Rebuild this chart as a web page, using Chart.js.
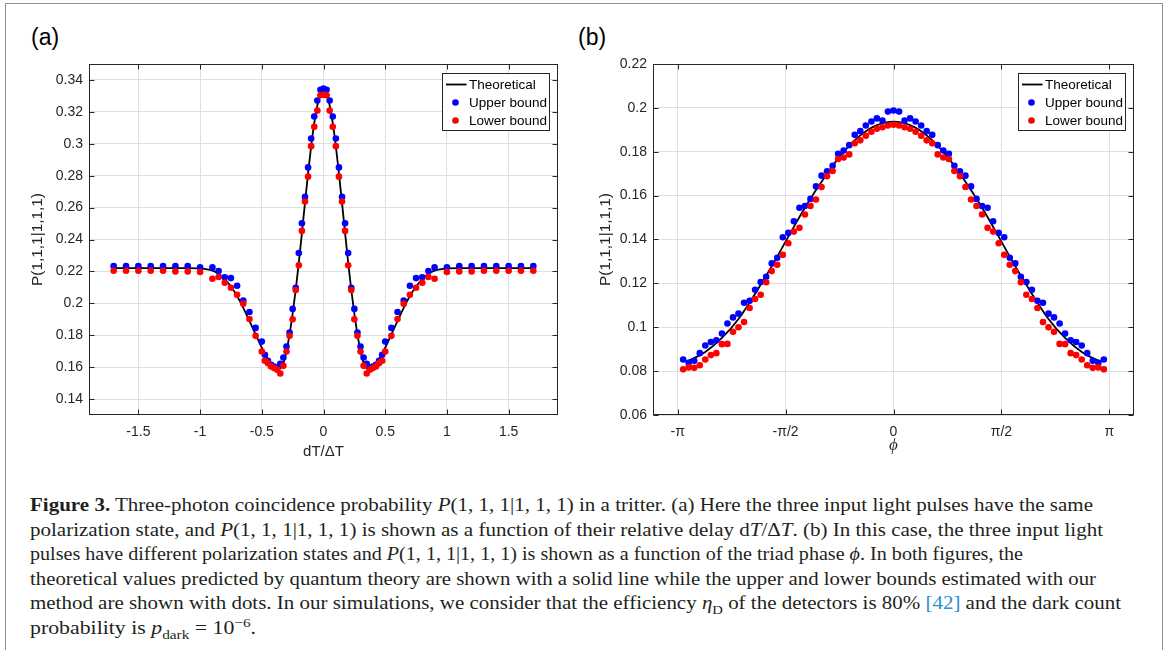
<!DOCTYPE html>
<html><head><meta charset="utf-8">
<script src="https://cdn.jsdelivr.net/npm/chart.js@4.4.1/dist/chart.umd.min.js"></script>
<style>
html,body{margin:0;padding:0;background:#fff;width:1168px;height:650px;overflow:hidden;position:relative;}
#frame{position:absolute;left:5px;top:3px;width:1158px;height:700px;border:1px solid #8f8f8f;box-sizing:border-box;}
canvas{position:absolute;top:0;}
.plab{position:absolute;font-family:"Liberation Sans",Arial,sans-serif;font-size:23px;color:#000;line-height:1;}
.cap{position:absolute;left:30px;white-space:nowrap;font-family:"Liberation Serif","Times New Roman",serif;font-size:18.5px;line-height:24px;color:#231f20;transform-origin:0 50%;}
.cap i{font-style:italic;}
.cap b{font-weight:bold;}
.cap sub,.cap sup{font-size:70%;line-height:0;}
.ref{color:#2b8fd0;}
</style></head><body>
<div id="frame"></div>
<div class="plab" style="left:31px;top:26px">(a)</div>
<div class="plab" style="left:578px;top:26px">(b)</div>
<canvas id="ca" width="580" height="470" style="left:0"></canvas>
<canvas id="cb" width="588" height="470" style="left:580px"></canvas>
<div class="cap" data-w="1063" style="top:493px"><b>Figure 3.</b> Three-photon coincidence probability <i>P</i>(1, 1, 1|1, 1, 1) in a tritter. (a) Here the three input light pulses have the same</div>
<div class="cap" data-w="1073" style="top:517.5px">polarization state, and <i>P</i>(1, 1, 1|1, 1, 1) is shown as a function of their relative delay d<i>T</i>/Δ<i>T</i>. (b) In this case, the three input light</div>
<div class="cap" data-w="993" style="top:542px">pulses have different polarization states and <i>P</i>(1, 1, 1|1, 1, 1) is shown as a function of the triad phase <i>ϕ</i>. In both figures, the</div>
<div class="cap" data-w="1066" style="top:566.5px">theoretical values predicted by quantum theory are shown with a solid line while the upper and lower bounds estimated with our</div>
<div class="cap" data-w="1091" style="top:591px">method are shown with dots. In our simulations, we consider that the efficiency <i>η</i><sub>D</sub> of the detectors is 80% <span class="ref">[42]</span> and the dark count</div>
<div class="cap" data-w="226" style="top:615.5px">probability is <i>p</i><sub>dark</sub> = 10<sup>−6</sup>.</div>
<script>
// ---------- Panel (a) data ----------
const delayA = [-1.7,-1.6,-1.5,-1.4,-1.3,-1.2,-1.1,-1.0,-0.9,-0.85,-0.8,-0.75,-0.7,-0.65,-0.6,-0.55,-0.5,
  -0.475,-0.45,-0.425,-0.4,-0.375,-0.35,-0.325,-0.3,-0.275,-0.25,-0.225,-0.2,-0.175,-0.15,-0.125,-0.1,-0.075,-0.05,-0.025,
  0,
  0.025,0.05,0.075,0.1,0.125,0.15,0.175,0.2,0.225,0.25,0.275,0.3,0.325,0.35,0.375,0.4,0.425,0.45,0.475,
  0.5,0.55,0.6,0.65,0.7,0.75,0.8,0.85,0.9,1.0,1.1,1.2,1.3,1.4,1.5,1.6,1.7];
const upperA = [0.2233,0.2233,0.2233,0.2233,0.2233,0.2233,0.2233,0.2226,0.2225,0.2202,0.2163,0.2158,0.2110,0.2017,0.1946,0.1846,0.1760,
  0.1677,0.1640,0.1615,0.1604,0.1598,0.1621,0.1660,0.1729,0.1817,0.1965,0.2098,0.2315,0.2502,0.2667,0.2852,0.3033,0.3171,0.3271,0.3338,
  0.3346,
  0.3338,0.3271,0.3171,0.3033,0.2852,0.2667,0.2502,0.2315,0.2098,0.1965,0.1817,0.1729,0.1660,0.1621,0.1598,0.1604,0.1615,0.1640,0.1677,
  0.1760,0.1846,0.1946,0.2017,0.2110,0.2158,0.2163,0.2202,0.2225,0.2226,0.2233,0.2233,0.2233,0.2233,0.2233,0.2233,0.2233];
const lowerA = [0.2204,0.2204,0.2204,0.2204,0.2204,0.2200,0.2200,0.2196,0.2154,0.2165,0.2129,0.2098,0.2054,0.1998,0.1902,0.1796,0.1698,
  0.1640,0.1625,0.1604,0.1594,0.1583,0.1560,0.1608,0.1698,0.1796,0.1900,0.2083,0.2238,0.2454,0.2638,0.2794,0.2985,0.3106,0.3208,0.3304,
  0.3308,
  0.3304,0.3208,0.3106,0.2985,0.2794,0.2638,0.2454,0.2238,0.2083,0.1900,0.1796,0.1698,0.1608,0.1560,0.1583,0.1594,0.1604,0.1625,0.1640,
  0.1698,0.1796,0.1902,0.1998,0.2054,0.2098,0.2129,0.2165,0.2154,0.2196,0.2200,0.2200,0.2204,0.2204,0.2204,0.2204,0.2204];
const theoryA = [0.2220,0.2220,0.2220,0.2220,0.2220,0.2220,0.2220,0.2218,0.2205,0.2185,0.2152,0.2105,0.2045,0.1972,0.1890,0.1805,0.1722,
  0.1684,0.1650,0.1622,0.1600,0.1588,0.1592,0.1625,0.1700,0.1805,0.1935,0.2085,0.2255,0.2440,0.2630,0.2815,0.2985,0.3130,0.3240,0.3310,
  0.3330,
  0.3310,0.3240,0.3130,0.2985,0.2815,0.2630,0.2440,0.2255,0.2085,0.1935,0.1805,0.1700,0.1625,0.1592,0.1588,0.1600,0.1622,0.1650,0.1684,
  0.1722,0.1805,0.1890,0.1972,0.2045,0.2105,0.2152,0.2185,0.2205,0.2218,0.2220,0.2220,0.2220,0.2220,0.2220,0.2220,0.2220];
const xTicksA = [-1.5,-1,-0.5,0,0.5,1,1.5];
const xLabelsA = ['-1.5','-1','-0.5','0','0.5','1','1.5'];
const yTicksA = [0.14,0.16,0.18,0.2,0.22,0.24,0.26,0.28,0.3,0.32,0.34];
const yLabelsA = ['0.14','0.16','0.18','0.2','0.22','0.24','0.26','0.28','0.3','0.32','0.34'];

// ---------- Panel (b) data ----------
const phaseB = [-3.061,-2.981,-2.900,-2.819,-2.739,-2.658,-2.578,-2.497,-2.417,-2.336,-2.256,-2.175,-2.094,-2.014,-1.933,-1.853,-1.772,-1.692,-1.611,
  -1.531,-1.450,-1.369,-1.289,-1.208,-1.128,-1.047,-0.967,-0.886,-0.806,-0.725,-0.644,-0.564,-0.483,-0.403,-0.322,-0.242,-0.161,-0.081,
  0,
  0.081,0.161,0.242,0.322,0.403,0.483,0.564,0.644,0.725,0.806,0.886,0.967,1.047,1.128,1.208,1.289,1.369,1.450,1.531,
  1.611,1.692,1.772,1.853,1.933,2.014,2.094,2.175,2.256,2.336,2.417,2.497,2.578,2.658,2.739,2.819,2.900,2.981,3.061];
const upperB = [0.0853,0.0838,0.0847,0.0882,0.0917,0.0933,0.0941,0.0971,0.1017,0.1045,0.1062,0.1112,0.1121,0.1171,0.1206,0.1230,0.1291,0.1317,0.1410,
  0.1430,0.1483,0.1545,0.1553,0.1585,0.1642,0.1691,0.1711,0.1736,0.1791,0.1806,0.1830,0.1877,0.1894,0.1920,0.1938,0.1952,0.1942,0.1983,
  0.1988,
  0.1983,0.1942,0.1952,0.1938,0.1920,0.1894,0.1877,0.1830,0.1806,0.1791,0.1736,0.1711,0.1691,0.1642,0.1585,0.1553,0.1545,0.1483,0.1430,
  0.1410,0.1317,0.1291,0.1230,0.1206,0.1171,0.1121,0.1112,0.1062,0.1045,0.1017,0.0971,0.0941,0.0933,0.0917,0.0882,0.0847,0.0838,0.0853];
const lowerB = [0.0808,0.0817,0.0815,0.0827,0.0853,0.0873,0.0882,0.0923,0.0924,0.0979,0.1000,0.1024,0.1088,0.1129,0.1148,0.1205,0.1256,0.1285,0.1330,
  0.1383,0.1436,0.1453,0.1514,0.1553,0.1582,0.1639,0.1688,0.1712,0.1767,0.1774,0.1788,0.1839,0.1852,0.1873,0.1891,0.1905,0.1912,0.1920,
  0.1923,
  0.1920,0.1912,0.1905,0.1891,0.1873,0.1852,0.1839,0.1788,0.1774,0.1767,0.1712,0.1688,0.1639,0.1582,0.1553,0.1514,0.1453,0.1436,0.1383,
  0.1330,0.1285,0.1256,0.1205,0.1148,0.1129,0.1088,0.1024,0.1000,0.0979,0.0924,0.0923,0.0882,0.0873,0.0853,0.0827,0.0815,0.0817,0.0808];
const phaseTheoryB = [-3.0,-2.75,-2.5,-2.25,-2.0,-1.75,-1.5,-1.25,-1.0,-0.75,-0.5,-0.25,0,0.25,0.5,0.75,1.0,1.25,1.5,1.75,2.0,2.25,2.5,2.75,3.0];
const theoryB = [0.0845,0.0885,0.0950,0.1040,0.1160,0.1290,0.1430,0.1565,0.1685,0.1790,0.1870,0.1920,0.1937,0.1920,0.1870,0.1790,0.1685,0.1565,0.1430,0.1290,0.1160,0.1040,0.0950,0.0885,0.0845];
const xTicksB = [-Math.PI,-Math.PI/2,0,Math.PI/2,Math.PI];
const xLabelsB = ['-π','-π/2','0','π/2','π'];
const yTicksB = [0.06,0.08,0.1,0.12,0.14,0.16,0.18,0.2,0.22];
const yLabelsB = ['0.06','0.08','0.1','0.12','0.14','0.16','0.18','0.2','0.22'];

const seriesNames = ['Theoretical','Upper bound','Lower bound'];
const yTitle = 'P(1,1,1|1,1,1)';

const AXC = '#262626', GRID = '#dfdfdf';
const SANS = '"Liberation Sans", Arial, sans-serif';

const boxPlugin = {
  id: 'boxPlugin',
  afterDraw(chart) {
    const {ctx, chartArea: a, scales: {x, y}} = chart;
    ctx.save();
    ctx.strokeStyle = AXC; ctx.lineWidth = 1;
    const L = Math.round(a.left) + 0.5, T = Math.round(a.top) + 0.5, R = Math.round(a.right) - 0.5, B = Math.round(a.bottom) - 0.5;
    ctx.strokeRect(L, T, R - L, B - T);
    const tl = 5;
    ctx.beginPath();
    x.ticks.forEach(t => { const p = Math.round(x.getPixelForValue(t.value)) + 0.5;
      ctx.moveTo(p, B); ctx.lineTo(p, B - tl); ctx.moveTo(p, T); ctx.lineTo(p, T + tl); });
    y.ticks.forEach(t => { const p = Math.round(y.getPixelForValue(t.value)) + 0.5;
      ctx.moveTo(L, p); ctx.lineTo(L + tl, p); ctx.moveTo(R, p); ctx.lineTo(R - tl, p); });
    ctx.stroke();
    // legend box
    const w = 107, h = 57;
    const lx = Math.round(a.right - 9 - w) + 0.5, ly = Math.round(a.top + 9) + 0.5;
    ctx.fillStyle = '#fff';
    ctx.fillRect(lx, ly, w, h);
    ctx.strokeRect(lx, ly, w, h);
    ctx.font = '13.5px ' + SANS;
    ctx.textBaseline = 'middle';
    ctx.fillStyle = '#000';
    const ds = chart.data.datasets;
    const rows = [ly + 11, ly + 29, ly + 47];
    ds.forEach((d, i) => {
      const ry = rows[i];
      if (i === 0) {
        ctx.strokeStyle = d.borderColor; ctx.lineWidth = 1.8;
        ctx.beginPath(); ctx.moveTo(lx + 3.5, ry); ctx.lineTo(lx + 24, ry); ctx.stroke();
      } else {
        ctx.fillStyle = d.backgroundColor;
        ctx.beginPath(); ctx.arc(lx + 13, ry, 3.3, 0, Math.PI * 2); ctx.fill();
      }
      ctx.fillStyle = '#000';
      ctx.fillText(d.label, lx + 26.5, ry + 0.5);
    });
    ctx.restore();
  }
};

function makeChart(id, c) {
  return new Chart(document.getElementById(id), {
    type: 'scatter',
    data: { datasets: [
      { label: seriesNames[0], type: 'line', data: c.thx.map((v, i) => ({x: v, y: c.th[i]})),
        borderColor: '#000000', borderWidth: 1.8, pointRadius: 0, cubicInterpolationMode: 'monotone', fill: false, order: 3 },
      { label: seriesNames[1], data: c.px.map((v, i) => ({x: v, y: c.up[i]})),
        backgroundColor: '#0000ff', borderColor: '#0000ff', pointRadius: 3.3, borderWidth: 0, order: 2 },
      { label: seriesNames[2], data: c.px.map((v, i) => ({x: v, y: c.lo[i]})),
        backgroundColor: '#ff0000', borderColor: '#ff0000', pointRadius: 3.3, borderWidth: 0, order: 1 }
    ]},
    options: {
      responsive: false, animation: false, devicePixelRatio: 1,
      layout: { padding: { left: 0, top: 64, right: c.padR, bottom: 0 } },
      plugins: { legend: { display: false }, tooltip: { enabled: false } },
      scales: {
        x: { type: 'linear', min: c.xmin, max: c.xmax,
          afterBuildTicks: s => { s.ticks = c.xt.map(v => ({value: v})); },
          afterFit: s => { s.height = 55; },
          grid: { color: GRID, drawTicks: false }, border: { display: false },
          ticks: { callback: (v, i) => c.xl[i], color: AXC, font: { family: SANS, size: 14 }, padding: 9, maxRotation: 0, autoSkip: false },
          title: { display: true, text: c.xTitle, color: AXC, font: c.xTitleFont, padding: { top: 0, bottom: c.xTitlePad } } },
        y: { type: 'linear', min: c.ymin, max: c.ymax,
          afterBuildTicks: s => { s.ticks = c.yt.map(v => ({value: v})); },
          afterFit: s => { s.width = c.yw; },
          grid: { color: GRID, drawTicks: false }, border: { display: false },
          ticks: { callback: (v, i) => c.yl[i], color: AXC, font: { family: SANS, size: 14 }, padding: 6, autoSkip: false },
          title: { display: true, text: yTitle, color: AXC, font: { family: SANS, size: 15.4 }, padding: { top: c.yTitlePad, bottom: 0 } } }
      }
    },
    plugins: [boxPlugin]
  });
}

function build() {
  makeChart('ca', { px: delayA, up: upperA, lo: lowerA, thx: delayA, th: theoryA,
    xmin: -1.9, xmax: 1.9, ymin: 0.13, ymax: 0.35, xt: xTicksA, xl: xLabelsA, yt: yTicksA, yl: yLabelsA,
    padR: 22, yw: 89, yTitlePad: 29, xTitle: 'dT/ΔT', xTitleFont: { family: SANS, size: 15 }, xTitlePad: 9 });
  makeChart('cb', { px: phaseB, up: upperB, lo: lowerB, thx: phaseTheoryB, th: theoryB,
    xmin: -3.5, xmax: 3.5, ymin: 0.06, ymax: 0.22, xt: xTicksB, xl: xLabelsB, yt: yTicksB, yl: yLabelsB,
    padR: 34, yw: 73, yTitlePad: 17, xTitle: 'ϕ', xTitleFont: { family: '"Liberation Serif", serif', size: 17, style: 'italic' }, xTitlePad: 14 });
  document.querySelectorAll('.cap').forEach(el => {
    const w = el.getBoundingClientRect().width;
    const target = parseFloat(el.dataset.w);
    el.style.transform = 'scaleX(' + (target / w).toFixed(4) + ')';
  });
}
if (document.fonts && document.fonts.ready) { document.fonts.ready.then(build); } else { build(); }
</script>
</body></html>
